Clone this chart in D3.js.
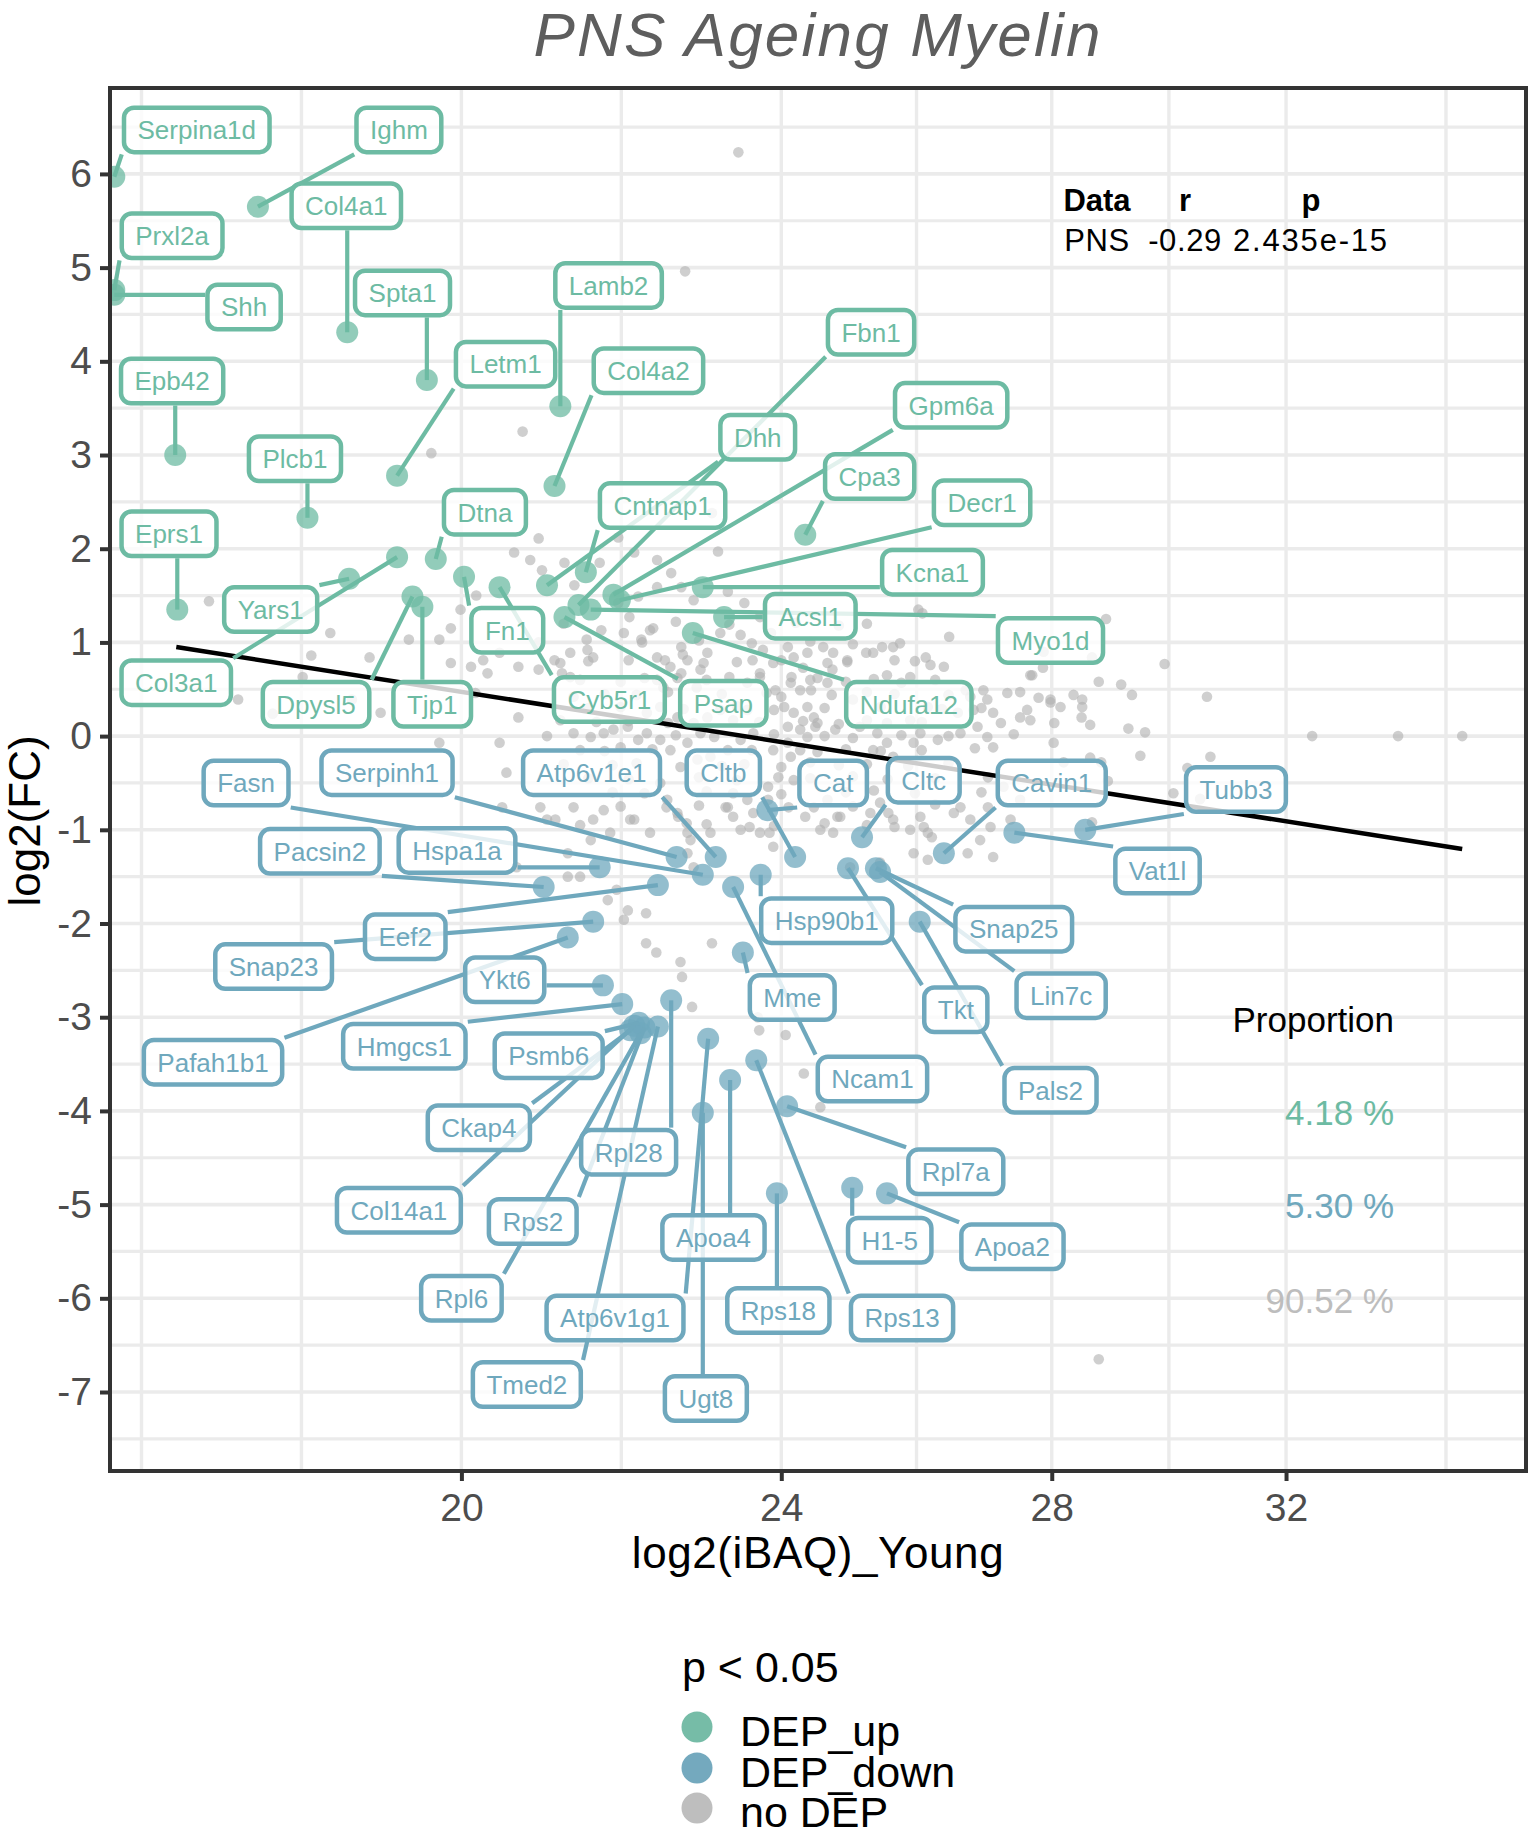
<!DOCTYPE html>
<html><head><meta charset="utf-8">
<script src="https://cdn.jsdelivr.net/npm/d3@7"></script>
<style>
body{margin:0;background:#fff;}
svg{display:block;font-family:"Liberation Sans",Arial,Helvetica,sans-serif;}
</style>
</head><body>
<svg id="chart" width="1535" height="1837"></svg>
<script>
// ---------------- DATA ----------------
const chartTitle = "PNS Ageing Myelin";
const xTitle = "log2(iBAQ)_Young";
const yTitle = "log2(FC)";
const xTicks = [20, 24, 28, 32];
const yTicks = [-7, -6, -5, -4, -3, -2, -1, 0, 1, 2, 3, 4, 5, 6];
const xDomain = [16.37, 36.69];
const yDomain = [-7.843, 6.917];

const upGenes  = ["Serpina1d","Ighm","Col4a1","Prxl2a","Shh","Spta1","Lamb2","Fbn1","Epb42","Letm1","Col4a2","Gpm6a","Dhh","Plcb1","Cpa3","Decr1","Cntnap1","Dtna","Eprs1","Kcna1","Yars1","Acsl1","Fn1","Myo1d","Col3a1","Dpysl5","Tjp1","Cyb5r1","Psap","Ndufa12"];
const upX      = [16.41,17.81,18.74,16.41,16.41,19.61,21.16,21.38,16.99,19.28,21.09,21.81,21.00,18.32,24.33,21.89,21.47,19.71,17.01,22.95,18.76,23.23,20.03,21.53,19.28,19.45,19.56,20.44,21.21,22.82];
const upY      = [5.97,5.65,4.31,4.76,4.71,3.80,3.52,1.40,3.00,2.78,2.67,1.51,1.61,2.33,2.15,1.45,1.75,1.89,1.35,1.59,1.68,1.27,1.70,1.35,1.91,1.49,1.38,1.59,1.27,1.10];
const upLabelX = [17.20,19.30,18.73,16.96,17.67,19.34,21.75,25.26,16.96,20.51,22.25,26.44,23.68,18.19,25.24,26.91,22.43,20.27,16.93,26.16,17.94,24.40,20.53,27.98,17.00,18.41,19.67,21.76,23.22,25.81];
const upLabelY = [6.47,6.47,5.66,5.34,4.58,4.73,4.81,4.31,3.79,3.97,3.90,3.53,3.19,2.96,2.77,2.49,2.46,2.39,2.16,1.75,1.35,1.28,1.13,1.02,0.57,0.34,0.34,0.39,0.35,0.34];

const downGenes  = ["Fasn","Serpinh1","Atp6v1e1","Cltb","Cat","Cltc","Cavin1","Tubb3","Vat1l","Pacsin2","Hspa1a","Hsp90b1","Snap25","Lin7c","Tkt","Pals2","Eef2","Snap23","Ykt6","Pafah1b1","Hmgcs1","Psmb6","Ncam1","Mme","Ckap4","Rpl28","Rpl7a","Col14a1","Rps2","H1-5","Apoa2","Apoa4","Rpl6","Atp6v1g1","Rps18","Rps13","Tmed2","Ugt8"];
const downX      = [22.95,22.61,23.12,24.19,23.81,25.13,26.33,28.54,27.41,20.96,21.64,23.72,25.33,25.39,24.93,25.97,22.37,21.56,21.68,21.25,21.92,22.13,23.35,23.48,22.02,22.54,24.08,22.07,22.20,24.99,25.49,23.31,22.15,23.02,23.94,23.66,22.37,22.95];
const downY      = [-1.48,-1.29,-1.29,-1.29,-0.79,-1.08,-1.25,-1.00,-1.03,-1.61,-1.40,-1.48,-1.41,-1.45,-1.41,-1.98,-1.59,-1.98,-2.66,-2.15,-2.86,-3.06,-1.61,-2.31,-3.14,-2.82,-3.95,-3.09,-3.11,-4.82,-4.88,-3.67,-3.17,-3.23,-4.88,-3.46,-3.10,-4.02];
const downLabelX = [17.69,19.17,21.54,23.22,24.72,26.03,28.00,31.10,29.74,18.45,19.95,24.63,27.40,28.15,26.51,27.98,19.37,17.97,20.50,17.36,19.36,21.02,25.28,24.15,20.20,22.00,26.51,19.30,20.83,25.53,27.38,23.09,20.00,21.83,23.96,25.71,20.76,22.99];
const downLabelY = [-0.50,-0.39,-0.39,-0.39,-0.50,-0.47,-0.50,-0.57,-1.44,-1.23,-1.22,-1.97,-2.06,-2.77,-2.92,-3.78,-2.14,-2.46,-2.60,-3.48,-3.31,-3.41,-3.66,-2.79,-4.18,-4.44,-4.65,-5.06,-5.18,-5.38,-5.45,-5.35,-6.00,-6.21,-6.13,-6.21,-6.92,-7.07];

// no-DEP proteins [log2(iBAQ)_Young, log2(FC)]
const greyPoints = [
[23.42,6.23],[22.72,4.96],[20.71,3.25],[19.66,3.02],
[20.90,2.11],[20.61,1.96],[20.80,1.88],[20.94,1.77],[21.21,1.85],[21.33,1.61],[21.64,1.85],[21.87,2.12],[22.07,1.96],[22.36,1.88],[22.54,1.74],[22.67,1.59],[22.36,1.59],[22.12,1.49],[21.87,1.42],[22.01,1.27],[22.31,1.15],[22.16,1.03],[21.94,1.10],[21.66,1.13],[21.48,1.03],[21.56,0.84],[21.28,0.89],[21.09,0.81],[21.18,0.67],[20.90,0.71],[20.66,0.74],[20.44,0.89],[20.25,0.81],[20.30,0.67],[20.11,0.74],[19.88,0.78],[19.75,1.03],[19.41,1.03],[19.88,1.15],[20.16,0.46],[20.66,0.20],[20.44,-0.07],[19.75,-0.07],[19.10,0.25],
[23.15,1.97],[23.07,2.38],[23.28,1.54],[23.50,1.42],[23.71,1.27],[23.86,1.10],[24.09,0.95],[24.36,0.89],[24.58,0.95],[24.64,0.78],[24.92,0.81],[25.19,0.89],[25.42,0.95],[25.60,0.81],[25.95,1.35],[26.41,1.06],[26.93,0.49],[26.66,0.49],[26.78,0.28],[23.71,0.63],[23.61,0.81],[22.67,0.95],[22.46,0.81],[22.67,0.67],[22.87,0.52],[23.92,0.49],[24.14,0.63],[24.41,0.49],[24.04,0.31],[24.47,0.10],[24.75,0.07],
[22.83,1.45],[26.01,1.31],[22.27,1.13],[22.17,1.00],[21.49,0.92],[22.00,0.81],[22.36,0.84],[22.69,0.87],[23.01,0.89],[23.18,1.10],[23.45,1.08],[23.75,0.92],[23.89,0.78],[24.17,0.84],[24.30,0.73],[24.72,0.89],[24.92,0.79],[24.71,0.71],[25.29,0.89],[25.58,0.95],[25.68,0.99],[26.06,0.84],[26.13,0.76],[26.33,0.74],[25.83,0.63],[25.49,0.65],[27.66,0.65],[27.50,0.47],[27.98,0.39],[28.14,0.31],[27.50,0.20],[27.61,0.28],
[22.53,0.74],[22.75,0.81],[22.96,0.78],[22.92,0.71],[22.62,0.62],[22.36,0.60],[22.44,0.52],[23.54,0.57],[23.71,0.67],[24.13,0.57],[24.26,0.49],[24.40,0.60],[24.64,0.57],[24.00,0.42],[24.36,0.31],[24.45,0.20],[24.17,0.25],[24.09,0.10],[24.26,0.07],[24.50,0.14],[24.36,-0.01],[24.09,-0.07],[23.89,-0.15],[24.13,-0.22],[24.26,-0.15],[24.00,-0.33],[23.96,-0.44],[23.82,-0.54],[24.17,-0.47],
[25.10,0.10],[25.35,0.03],[25.49,-0.07],[25.29,-0.15],[25.58,-0.22],[25.88,-0.07],[25.98,0.03],[26.24,-0.04],[26.58,0.03],[26.84,0.10],[26.99,-0.01],[27.08,-0.12],[26.73,0.42],[26.99,0.39],[27.08,0.25],[26.54,0.25],[26.09,0.31],[25.83,0.17],[25.49,0.14],[25.00,0.39],
[21.16,0.78],[21.28,0.63],[21.32,0.42],[21.16,0.17],[21.32,0.03],[21.53,-0.01],[21.69,0.03],[21.81,0.07],[21.99,0.10],[22.12,-0.04],[21.90,-0.12],[22.23,0.03],[22.40,-0.04],[22.53,-0.15],[22.75,-0.07],[22.92,0.03],[22.83,0.14],[22.62,0.20],[22.40,0.31],[22.23,0.25],[23.01,0.20],[23.18,0.28],[23.35,0.17],[23.54,0.28],[23.62,0.03],[23.45,-0.04],[23.28,-0.15],[23.05,-0.22],[22.88,-0.25],[22.66,-0.33],[22.40,-0.50],[22.49,-0.68],[22.02,-0.89],[22.27,-1.03],[22.62,-0.82],[22.75,-1.03],[23.28,-0.76],[23.35,-0.61],[23.54,-0.68],[23.82,-0.68],[23.62,-0.82],[23.71,-1.03],[23.89,-1.18],[23.45,-1.00],[24.45,-0.76],[24.64,-0.68],[24.78,-0.86],[24.72,-1.03],[24.54,-1.00],[25.25,-0.82],[25.39,-0.71],[25.58,-0.89],[25.83,-1.00],[25.98,-0.86],[26.09,-1.03],[26.48,-0.82],[26.58,-0.76],[26.73,-0.89],[27.04,-0.97],[26.88,-1.11],[27.35,-0.89],[27.50,-0.68],[27.24,-0.54],
[21.32,-0.76],[21.56,-0.89],[21.69,-0.79],[21.77,-1.03],[21.53,-1.11],[21.25,-1.25],[22.75,-1.25],[22.83,-1.40],[25.88,-1.25],[26.09,-1.32],[25.39,-1.35],[24.96,-1.40],[26.69,-1.25],[27.08,-1.29],
[22.22,-2.21],[22.35,-2.31],[22.66,-2.41],[22.68,-2.57],[23.07,-2.21],[22.81,-2.89],[23.68,-3.00],[23.70,-3.14],[24.06,-3.19],[24.31,-3.60],[24.54,-3.96],[23.84,-1.03],[24.33,-0.86],[24.60,-0.93],[24.82,-0.86],[25.51,-0.82],[26.03,-0.97],[26.15,-1.08],[22.07,-0.89],[21.00,-0.89],[21.25,-1.50],[21.40,-1.50],[21.85,-1.64],[21.99,-1.86],[21.74,-1.75],[22.22,-1.89],[21.94,-1.96],[20.64,-1.40],[20.52,-0.39],[20.47,-0.76],[20.92,-0.76],[21.10,-0.89],[22.48,-0.76],[22.63,-0.86],[22.74,-0.93],[23.25,-0.76],[23.35,-0.86],[23.57,-0.97],[23.05,-1.03],[22.79,-1.11],
[28.88,1.25],[29.86,0.77],[30.59,0.42],[28.76,0.58],[29.13,0.55],[29.31,0.44],[28.35,0.44],[28.49,0.39],[27.79,0.41],[27.98,0.36],[28.49,0.31],[28.48,0.20],[28.04,0.14],[28.62,0.12],[29.25,0.08],[29.53,0.04],[28.03,-0.07],[32.48,0.00],[34.11,0.00],[35.38,0.00],[29.45,-0.21],[30.65,-0.22],[28.62,-0.23],[28.80,-0.28],[28.19,-0.28],[30.25,-0.34],[28.91,-0.48],[30.47,-0.67],[30.01,-0.61],[28.65,-0.92],[27.86,0.73],[27.69,0.65],[27.66,0.17],[27.87,0.90],[28.65,0.84],
[28.76,-6.65],[17.32,1.44],[17.61,0.39],[17.96,0.24],[18.27,0.63],[18.36,0.86],[18.56,1.10],[18.98,0.84],[18.79,0.39],[19.99,1.35],[20.17,1.50],
// dense core of the cloud (estimated)
[21.4,0.60],[21.9,0.58],[22.2,0.62],[23.0,0.60],[23.3,0.63],[24.5,0.62],[24.9,0.58],[25.3,0.61],[25.7,0.57],[26.2,0.60],
[21.7,0.45],[22.1,0.44],[22.5,0.47],[23.2,0.45],[23.8,0.46],[24.7,0.44],[25.2,0.47],[25.6,0.45],[26.4,0.44],[27.3,0.46],
[21.5,0.30],[21.9,0.31],[22.7,0.29],[23.4,0.32],[23.9,0.28],[24.6,0.30],[25.4,0.31],[26.3,0.29],[26.9,0.30],
[21.6,0.15],[22.0,0.16],[22.5,0.14],[23.7,0.15],[24.3,0.16],[24.8,0.13],[25.2,0.17],[26.0,0.15],[27.2,0.14],
[21.0,0.00],[22.6,0.01],[23.1,-0.01],[23.9,0.02],[24.6,0.00],[25.0,-0.02],[25.7,0.01],[26.4,0.00],[27.4,0.02],
[21.4,-0.15],[21.7,-0.16],[22.3,-0.14],[23.6,-0.15],[24.5,-0.17],[24.9,-0.14],[25.4,-0.16],[26.0,-0.15],[26.8,-0.13],
[21.2,-0.30],[21.8,-0.31],[22.1,-0.29],[23.2,-0.32],[23.5,-0.30],[24.4,-0.28],[24.8,-0.31],[25.2,-0.30],[25.8,-0.32],[26.4,-0.29],
[21.5,-0.45],[22.0,-0.46],[22.9,-0.44],[23.4,-0.47],[24.4,-0.45],[25.0,-0.43],[25.5,-0.46],[26.2,-0.45],[27.0,-0.44],
[21.8,-0.60],[22.2,-0.61],[23.0,-0.59],[24.0,-0.62],[24.9,-0.60],[25.3,-0.58],[25.9,-0.61],[26.9,-0.60],
[21.9,-0.75],[22.9,-0.74],[24.1,-0.76],[25.0,-0.75],[26.2,-0.73],[27.0,-0.76],
[21.4,-0.95],[23.0,-0.94],[23.9,-0.96],[25.2,-0.95],[25.6,-0.97],
[21.2,1.20],[22.6,1.22],[23.3,1.19],[24.2,1.21],[24.8,1.18],[25.2,1.20],
[20.9,1.00],[22.9,1.02],[23.6,0.99],[24.4,1.01],[25.0,0.98],
[21.5,0.80],[23.4,0.79],[24.0,0.81],[25.9,0.80]
];

// linear fit (in log-x space), start and end of fitted line
const fitX = [17.00, 35.38];
const fitY = [0.951, -1.205];

const statHeader = ["Data", "r", "p"];
const statRow = ["PNS", "-0.29", "2.435e-15"];
const propTitle = "Proportion";
const propLabels = ["4.18 %", "5.30 %", "90.52 %"];
const legendTitle = "p < 0.05";
const legendLabels = ["DEP_up", "DEP_down", "no DEP"];

// ---------------- STYLE ----------------
const UP = "#6DBBA3", DOWN = "#6FA8BD", GREY = "#BEBEBE";
const W = 1535, H = 1837;
const P = {l: 110, r: 1526, t: 88, b: 1471};

const svg = d3.select("#chart");
svg.append("rect").attr("width", W).attr("height", H).attr("fill", "#fff");

const x = d3.scaleLog().domain(xDomain).range([P.l, P.r]);
const y = d3.scaleLinear().domain(yDomain).range([P.b, P.t]);

// ---- grid ----
const grid = svg.append("g");
const lt = xTicks.map(Math.log);
const bd = lt[1] - lt[0];
const ext = [lt[0] - bd, ...lt, lt[lt.length - 1] + bd];
const xGrid = [];
for (let i = 0; i < ext.length - 1; i++) {
  xGrid.push(Math.exp(ext[i]));
  xGrid.push(Math.exp((ext[i] + ext[i + 1]) / 2));
}
const xGridIn = xGrid.filter(v => v > xDomain[0] && v < xDomain[1]);
const yGrid = d3.range(-7.5, 6.51, 0.5);
grid.selectAll("line.h").data(yGrid).join("line")
  .attr("x1", P.l).attr("x2", P.r).attr("y1", d => y(d)).attr("y2", d => y(d))
  .attr("stroke", "#EBEBEB").attr("stroke-width", d => Number.isInteger(d) ? 3.6 : 3.2);
grid.selectAll("line.v").data(xGridIn).join("line")
  .attr("y1", P.t).attr("y2", P.b).attr("x1", d => x(d)).attr("x2", d => x(d))
  .attr("stroke", "#EBEBEB").attr("stroke-width", 3.4);

// ---- clip ----
svg.append("defs").append("clipPath").attr("id", "clip")
  .append("rect").attr("x", P.l).attr("y", P.t).attr("width", P.r - P.l).attr("height", P.b - P.t);
const plot = svg.append("g").attr("clip-path", "url(#clip)");

// grey points
plot.append("g").selectAll("circle").data(greyPoints).join("circle")
  .attr("cx", d => x(d[0])).attr("cy", d => y(d[1])).attr("r", 5.3)
  .attr("fill", "#AFAFAF").attr("fill-opacity", 0.6);

function pts(xs, ys, col) {
  plot.append("g").selectAll("circle").data(xs).join("circle")
    .attr("cx", (d) => x(d)).attr("cy", (d, i) => y(ys[i])).attr("r", 11)
    .attr("fill", col).attr("fill-opacity", 0.75);
}
pts(upX, upY, UP);
pts(downX, downY, DOWN);

// regression line
plot.append("line")
  .attr("x1", x(fitX[0])).attr("y1", y(fitY[0]))
  .attr("x2", x(fitX[1])).attr("y2", y(fitY[1]))
  .attr("stroke", "#000").attr("stroke-width", 4.5);

// ---- labels ----
const segG = plot.append("g");
const labG = plot.append("g");
function labels(genes, xs, ys, lxs, lys, col) {
  genes.forEach((g, i) => {
    const cx = x(lxs[i]), cy = y(lys[i]);
    const grp = labG.append("g");
    const rect = grp.append("rect");
    const t = grp.append("text").attr("x", cx).attr("y", cy).attr("dy", "0.36em")
      .attr("text-anchor", "middle").attr("font-size", 26).attr("fill", col).text(g);
    const tw = t.node().getComputedTextLength();
    const bw = tw + 27, bh = 44.5;
    const x0 = cx - bw / 2, y0 = cy - bh / 2;
    rect.attr("x", x0).attr("y", y0).attr("width", bw).attr("height", bh)
      .attr("rx", 10).attr("ry", 10)
      .attr("fill", "#fff").attr("fill-opacity", 0.8)
      .attr("stroke", col).attr("stroke-width", 4.5);
    const px = x(xs[i]), py = y(ys[i]);
    const ox0 = x0 - 2.25, ox1 = x0 + bw + 2.25, oy0 = y0 - 2.25, oy1 = y0 + bh + 2.25;
    const ex = Math.max(ox0, Math.min(px, ox1));
    const ey = Math.max(oy0, Math.min(py, oy1));
    const len = Math.hypot(ex - px, ey - py);
    if (len > 12) {
      segG.append("line").attr("x1", px).attr("y1", py).attr("x2", ex).attr("y2", ey)
        .attr("stroke", col).attr("stroke-width", 4.2);
    }
  });
}
labels(upGenes, upX, upY, upLabelX, upLabelY, UP);
labels(downGenes, downX, downY, downLabelX, downLabelY, DOWN);

// ---- panel border ----
svg.append("rect").attr("x", P.l).attr("y", P.t).attr("width", P.r - P.l).attr("height", P.b - P.t)
  .attr("fill", "none").attr("stroke", "#333").attr("stroke-width", 4);

// ---- axes ----
const ax = svg.append("g").attr("transform", `translate(0,${P.b})`)
  .call(d3.axisBottom(x).tickValues(xTicks).tickFormat(d => String(d)).tickSize(10).tickPadding(12));
const ay = svg.append("g").attr("transform", `translate(${P.l},0)`)
  .call(d3.axisLeft(y).tickValues(yTicks).tickFormat(d => String(d)).tickSize(10).tickPadding(8));
[ax, ay].forEach(a => {
  a.select(".domain").remove();
  a.selectAll(".tick line").attr("stroke", "#333").attr("stroke-width", 4);
  a.selectAll(".tick text").attr("fill", "#4D4D4D").attr("font-size", 39)
    .attr("font-family", "Liberation Sans, Arial, sans-serif");
});

// axis titles
svg.append("text").attr("x", (P.l + P.r) / 2).attr("y", 1568).attr("text-anchor", "middle")
  .attr("font-size", 44).attr("letter-spacing", 0.6).attr("fill", "#000").text(xTitle);
svg.append("text").attr("transform", `translate(40,821) rotate(-90)`)
  .attr("text-anchor", "middle").attr("font-size", 44).attr("fill", "#000").text(yTitle);

// title
svg.append("text").attr("x", (P.l + P.r) / 2).attr("y", 56).attr("text-anchor", "middle")
  .attr("font-size", 62).attr("letter-spacing", 2.2).attr("font-style", "italic").attr("fill", "#5E5E5E").text(chartTitle);

// stats table
const colX = [1097, 1185, 1311];
statHeader.forEach((s, i) => svg.append("text").attr("x", colX[i]).attr("y", 211)
  .attr("text-anchor", "middle").attr("font-size", 31).attr("font-weight", "bold").attr("fill", "#000").text(s));
statRow.forEach((s, i) => svg.append("text").attr("x", colX[i]).attr("y", 251)
  .attr("text-anchor", "middle").attr("font-size", 31).attr("letter-spacing", i === 2 ? 1.8 : 0.6).attr("fill", "#000").text(s));

// proportion
svg.append("text").attr("x", 1394).attr("y", 1032).attr("text-anchor", "end")
  .attr("font-size", 35).attr("fill", "#000").text(propTitle);
const propCols = [UP, DOWN, "#BDBDBD"];
propLabels.forEach((s, i) => svg.append("text").attr("x", 1394).attr("y", [1125, 1218, 1313][i])
  .attr("text-anchor", "end").attr("font-size", 35).attr("fill", propCols[i]).text(s));

// legend
const leg = svg.append("g");
leg.append("text").attr("x", 682).attr("y", 1682).attr("font-size", 43).attr("fill", "#000").text(legendTitle);
const legCols = ["#76BCA7", "#74A9BE", GREY];
legendLabels.forEach((s, i) => {
  const cy = [1727, 1768, 1808][i];
  leg.append("circle").attr("cx", 697).attr("cy", cy).attr("r", 15.5).attr("fill", legCols[i]);
  leg.append("text").attr("x", 740).attr("y", cy + 19).attr("font-size", 43).attr("fill", "#000").text(s);
});
</script>
</body></html>
